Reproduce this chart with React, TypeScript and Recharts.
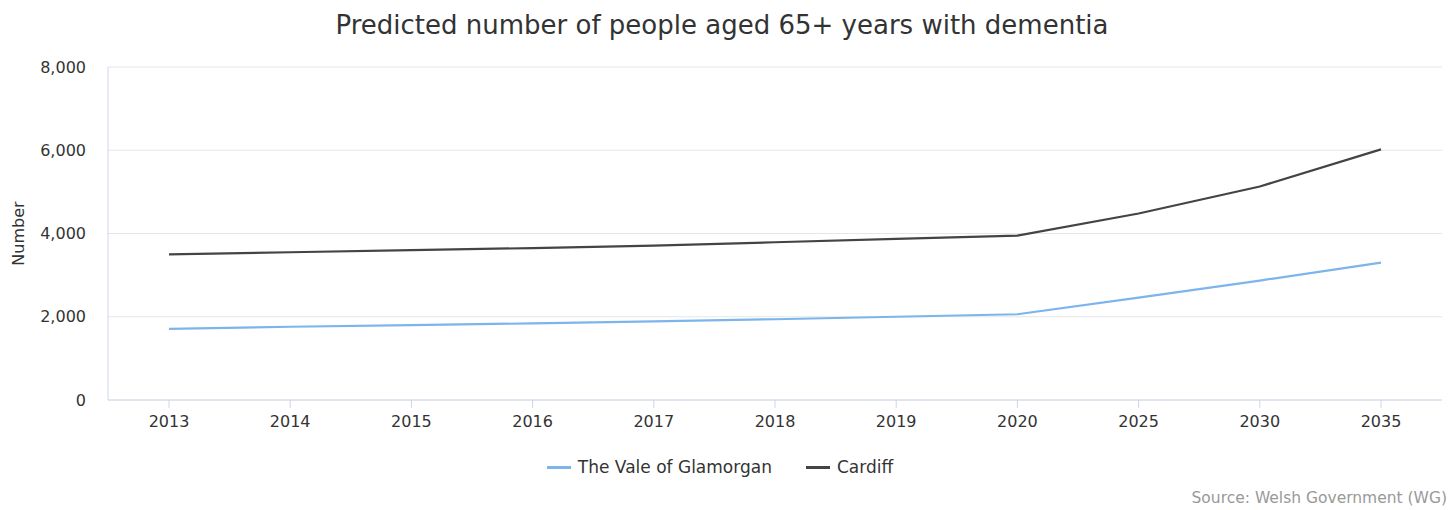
import React from "react";
import { LineChart, Line, XAxis, YAxis, CartesianGrid } from "recharts";

const years = ["2013", "2014", "2015", "2016", "2017", "2018", "2019", "2020", "2025", "2030", "2035"];
const vale = [1710, 1760, 1800, 1840, 1890, 1940, 2000, 2060, 2460, 2870, 3300];
const cardiff = [3500, 3550, 3600, 3650, 3710, 3790, 3870, 3950, 4480, 5130, 6020];
const yTicks = [0, 2000, 4000, 6000, 8000];
const seriesNames = ["The Vale of Glamorgan", "Cardiff"];
const seriesKeys = ["vale", "cardiff"];
const seriesColors = ["#7cb5ec", "#434348"];

const data = years.map((y, i) => ({ year: y, vale: vale[i], cardiff: cardiff[i] }));

const FONT = "'DejaVu Sans', Verdana, sans-serif";

export default function App() {
  return (
    <div style={{ position: "absolute", left: 0, top: 0, width: 1454, height: 510, background: "#fff", fontFamily: FONT }}>
      <div style={{ position: "absolute", top: 10, left: 0, width: 1444, textAlign: "center", fontSize: 26, color: "#333" }}>
        Predicted number of people aged 65+ years with dementia
      </div>
      <LineChart width={1454} height={510} data={data} margin={{ top: 67, right: 12, bottom: 80, left: 48 }}>
        <CartesianGrid vertical={false} stroke="#e6e6e6" />
        <XAxis
          dataKey="year"
          stroke="#ccd6eb"
          padding={{ left: 61, right: 61 }}
          tickSize={8}
          tickMargin={8}
          height={30}
          tick={{ fill: "#333", fontSize: 16, fontFamily: FONT }}
        />
        <YAxis
          ticks={yTicks}
          domain={[0, 8000]}
          width={60}
          stroke="#ccd6eb"
          tickLine={false}
          tickSize={0}
          tickMargin={22}
          tickFormatter={(v: number) => v.toLocaleString("en-US")}
          tick={{ fill: "#333", fontSize: 16, fontFamily: FONT }}
          label={{ value: "Number", angle: -90, position: "insideLeft", offset: -30, style: { fill: "#333", fontSize: 16, fontFamily: FONT, textAnchor: "middle" } }}
        />
        {seriesKeys.map((k, i) => (
          <Line key={k} type="linear" dataKey={k} name={seriesNames[i]} stroke={seriesColors[i]} strokeWidth={2.2} dot={false} isAnimationActive={false} />
        ))}
      </LineChart>
      <div style={{ position: "absolute", top: 457, left: 0, width: 1454, display: "flex", justifyContent: "center", fontSize: 17, color: "#333" }}>
        <div style={{ display: "flex", gap: 34, marginLeft: -14 }}>
          {seriesNames.map((n, i) => (
            <div key={n} style={{ display: "flex", alignItems: "center" }}>
              <span style={{ display: "inline-block", width: 24, height: 3, background: seriesColors[i], marginRight: 7 }} />
              <span>{n}</span>
            </div>
          ))}
        </div>
      </div>
      <div style={{ position: "absolute", right: 7, top: 489, fontSize: 15.5, color: "#999" }}>
        Source: Welsh Government (WG)
      </div>
    </div>
  );
}
